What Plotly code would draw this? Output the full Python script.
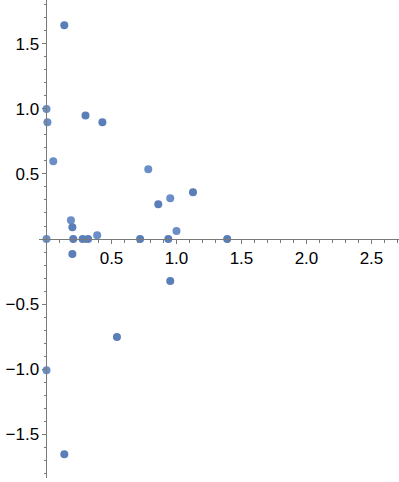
import plotly.graph_objects as go

# darker points
x_dark = [0.137, 0.30, 0.43, 0.86, 1.127, 0.206, 0.278, 0.32, 0.72, 0.937, 1.39, 0.199, 0.199, 0.952, 0.542, 0.137]
y_dark = [1.644, 0.95, 0.898, 0.267, 0.359, 0.0, 0.0, 0.0, 0.0, 0.0, 0.0, 0.09, -0.115, -0.323, -0.754, -1.656]
# lighter points
x_light = [0.0, 0.007, 0.052, 0.783, 0.952, 1.0, 0.188, 0.39, 0.0, 0.0]
y_light = [1.0, 0.898, 0.598, 0.536, 0.313, 0.062, 0.144, 0.028, 0.0, -1.01]

x_ticks = [0.5, 1.0, 1.5, 2.0, 2.5]
x_labels = ["0.5", "1.0", "1.5", "2.0", "2.5"]
y_ticks = [-1.5, -1.0, -0.5, 0.5, 1.0, 1.5]
y_labels = ["\u22121.5", "\u22121.0", "\u22120.5", "0.5", "1.0", "1.5"]

xr = [-0.0577, 2.712]
yr = [-1.838, 1.838]

fig = go.Figure()
fig.add_trace(go.Scatter(x=x_light, y=y_light, mode="markers",
                         marker=dict(size=8, color="#6A8EC6", line=dict(width=0))))
fig.add_trace(go.Scatter(x=x_dark, y=y_dark, mode="markers",
                         marker=dict(size=8, color="#5A7EB7", line=dict(width=0))))

axis_col = "#7a7a7a"
font = dict(family="Liberation Sans, Arial", size=17, color="#000000")

fig.update_layout(
    width=399, height=482,
    margin=dict(l=39, r=0, t=0, b=4, autoexpand=False),
    paper_bgcolor="white", plot_bgcolor="white",
    showlegend=False,
    xaxis=dict(range=xr, showgrid=False, zeroline=False, automargin=False,
               showline=True, linecolor=axis_col, linewidth=1,
               anchor="free", position=(0 - yr[0]) / (yr[1] - yr[0]),
               tickmode="array", tickvals=x_ticks, ticktext=x_labels,
               ticks="outside", ticklen=4, tickcolor=axis_col, tickfont=font,
               minor=dict(dtick=0.1, tick0=0, ticks="outside", ticklen=2.5, tickcolor=axis_col)),
    yaxis=dict(range=yr, showgrid=False, zeroline=False, automargin=False,
               showline=True, linecolor=axis_col, linewidth=1,
               anchor="free", position=(0 - xr[0]) / (xr[1] - xr[0]),
               tickmode="array", tickvals=y_ticks, ticktext=y_labels,
               ticks="outside", ticklen=4, tickcolor=axis_col, tickfont=font,
               minor=dict(dtick=0.1, tick0=0, ticks="outside", ticklen=2.5, tickcolor=axis_col)),
)

fig.write_html("out.html", config={"displayModeBar": False},
               post_script="document.body.style.margin='0';document.body.style.padding='0';")
